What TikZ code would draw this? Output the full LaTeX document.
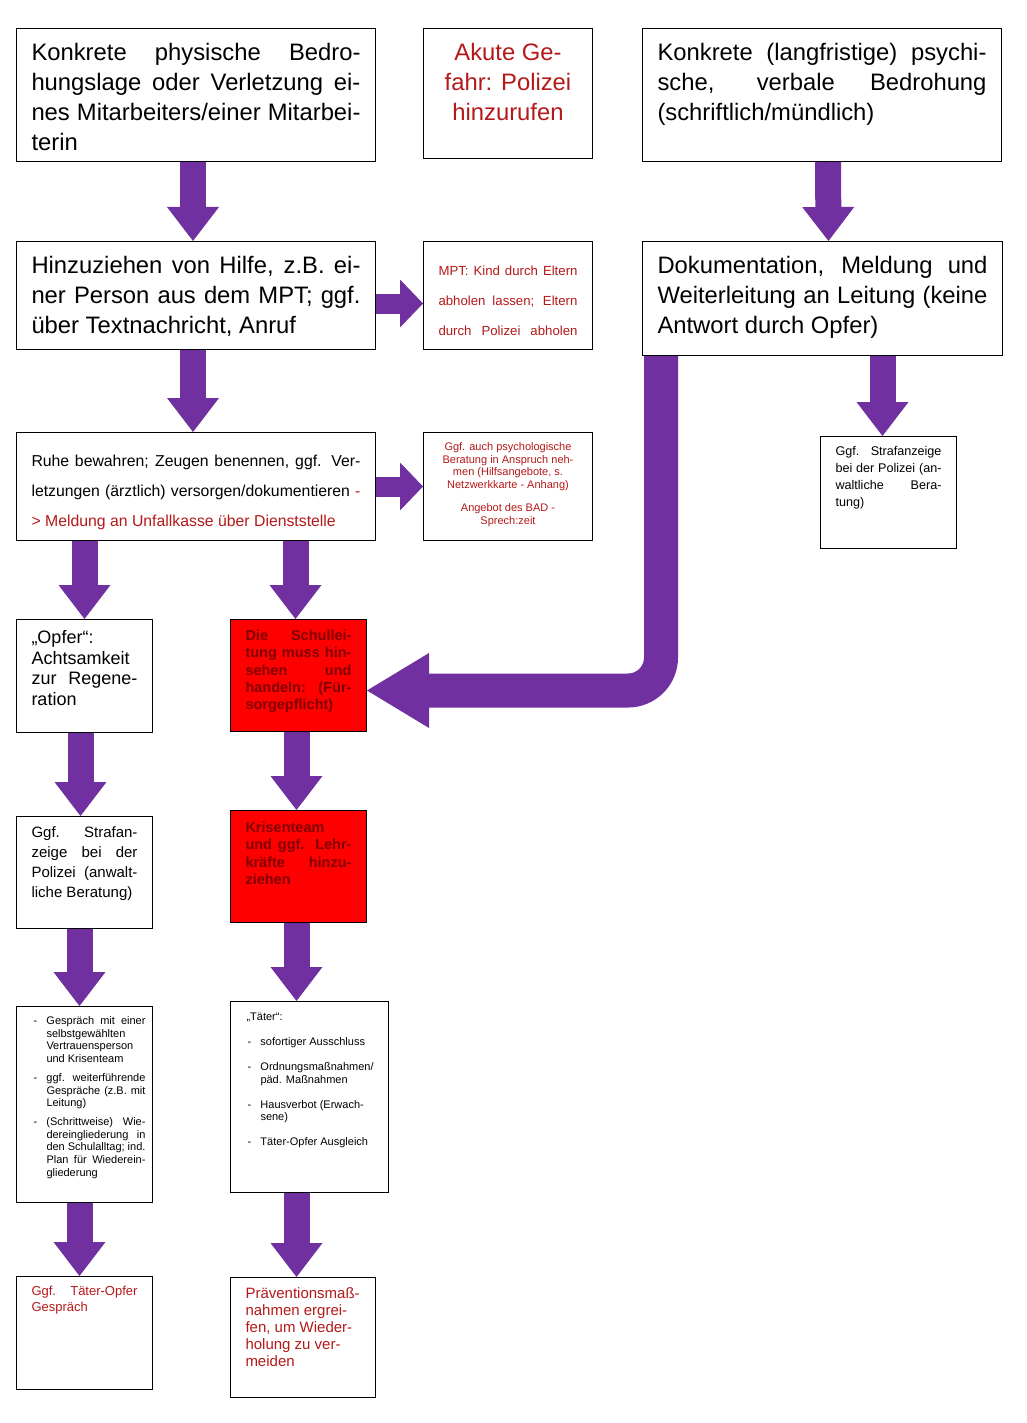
\documentclass[tikz,border=0pt]{standalone}
\usepackage{fontspec}
\setmainfont{Liberation Sans}
\usetikzlibrary{arrows.meta}

\definecolor{arrowpurple}{HTML}{7030A0}
\definecolor{textred}{HTML}{B41818}
\definecolor{alarmred}{HTML}{FF0000}
\definecolor{alarmtext}{HTML}{800000}

\newcommand{\jline}[2][\linewidth]{\makebox[#1][s]{#2}}
\newcommand{\boxtxt}[5]{\parbox[c][#2pt][t]{#1pt}{#4\rule{0pt}{#3pt}#5}}
\newcommand{\dashitem}[1]{\hspace*{17pt}\makebox[13pt][l]{-}#1}
\newcommand{\dashcont}[1]{\hspace*{30pt}#1}

\begin{document}
\begin{tikzpicture}[
    x=1pt, y=-1pt,
    box/.style={draw, line width=1pt, anchor=north west, inner ysep=0pt, inner xsep=15pt},
    alarm/.style={box, fill=alarmred},
    bigarrow/.style={draw=arrowpurple, line width=26pt, -{Triangle[length=34pt, width=52pt, line width=0pt]}},
    sidearrow/.style={draw=arrowpurple, line width=20pt, -{Triangle[length=23pt, width=48pt, line width=0pt]}}
]
\useasboundingbox (0,0) rectangle (1027,1423);

% top row
\node[box] (danger) at (16,28) {\boxtxt{329}{133}{32}{\fontsize{23.8}{30}\selectfont}{\jline{Konkrete physische Bedro-}\\
\jline{hungslage oder Verletzung ei-}\\
\jline{nes Mitarbeiters/einer Mitarbei-}\\
terin}};
\node[box] (police) at (423,28) {\boxtxt{139}{130}{32}{\fontsize{23.8}{30}\selectfont\centering\color{textred}}{Akute Ge-\\
fahr: Polizei\\
hinzurufen}};
\node[box] (psych) at (642,28) {\boxtxt{329}{133}{32}{\fontsize{23.8}{30}\selectfont}{\jline{Konkrete (langfristige) psychi-}\\
\jline{sche, verbale Bedrohung}\\
(schriftlich/mündlich)}};

% second row
\node[box] (help) at (16,241) {\boxtxt{329}{108}{32}{\fontsize{23.8}{30}\selectfont}{\jline{Hinzuziehen von Hilfe, z.B. ei-}\\
\jline{ner Person aus dem MPT; ggf.}\\
über Textnachricht, Anruf}};
\node[box] (mpt) at (423,241) {\boxtxt{139}{108}{34}{\fontsize{13.2}{30}\selectfont\color{textred}}{\jline{MPT: Kind durch Eltern}\\
\jline{abholen lassen; Eltern}\\
\jline{durch Polizei abholen}}};
\node[box] (docu) at (642,241) {\boxtxt{330}{114}{32}{\fontsize{23.8}{30}\selectfont}{\jline{Dokumentation, Meldung und}\\
\jline{Weiterleitung an Leitung (keine}\\
Antwort durch Opfer)}};

% third row
\node[box] (calm) at (16,432) {\boxtxt{329}{108}{34}{\fontsize{15.8}{30}\selectfont}{\jline{Ruhe bewahren; Zeugen benennen, ggf. Ver-}\\
\jline{letzungen (ärztlich) versorgen/dokumentieren \textcolor{textred}{-}}\\
\textcolor{textred}{> Meldung an Unfallkasse über Dienststelle}}};
\node[box] (counsel) at (423,432) {\boxtxt{139}{108}{18}{\fontsize{11}{12.6}\selectfont\centering\color{textred}}{Ggf. auch psychologische\\
Beratung in Anspruch neh-\\
men (Hilfsangebote, s.\\
Netzwerkkarte - Anhang)\\[11pt]
Angebot des BAD -\\
Sprech:zeit}};
\node[box] (charges) at (820,436) {\boxtxt{106}{112}{19}{\fontsize{12.6}{17}\selectfont}{\jline{Ggf. Strafanzeige}\\
\jline{bei der Polizei (an-}\\
\jline{waltliche Bera-}\\
tung)}};

% victim column
\node[box] (victim) at (16,619) {\boxtxt{106}{113}{24}{\fontsize{18}{20.5}\selectfont}{„Opfer“:\\
Achtsamkeit\\
\jline{zur Regene-}\\
ration}};
\node[box] (victimcharges) at (16,816) {\boxtxt{106}{112}{21}{\fontsize{15}{20}\selectfont}{\jline{Ggf. Strafan-}\\
\jline{zeige bei der}\\
\jline{Polizei (anwalt-}\\
liche Beratung)}};
\node[box, inner xsep=0pt] (victimcare) at (16,1006) {\boxtxt{136}{196}{18}{\fontsize{11}{12.6}\selectfont}{\dashitem{\jline[99pt]{Gespräch mit einer}}\\
\dashcont{selbstgewählten}\\
\dashcont{Vertrauensperson}\\
\dashcont{und Krisenteam}\\[6.5pt]
\dashitem{\jline[99pt]{ggf. weiterführende}}\\
\dashcont{\jline[99pt]{Gespräche (z.B. mit}}\\
\dashcont{Leitung)}\\[6.5pt]
\dashitem{\jline[99pt]{(Schrittweise) Wie-}}\\
\dashcont{\jline[99pt]{dereingliederung in}}\\
\dashcont{\jline[99pt]{den Schulalltag; ind.}}\\
\dashcont{\jline[99pt]{Plan für Wiederein-}}\\
\dashcont{gliederung}}};
\node[box] (talk) at (16,1276) {\boxtxt{106}{113}{19}{\fontsize{13}{15.5}\selectfont\color{textred}}{\jline{Ggf. Täter-Opfer}\\
Gespräch}};

% school column
\node[alarm] (duty) at (230,619) {\boxtxt{106}{112}{21}{\fontsize{14.5}{17.3}\selectfont\bfseries\color{alarmtext}}{\jline{Die Schullei-}\\
\jline{tung muss hin-}\\
\jline{sehen und}\\
\jline{handeln: (Für-}\\
sorgepflicht)}};
\node[alarm] (crisis) at (230,810) {\boxtxt{106}{112}{22}{\fontsize{14.5}{17.3}\selectfont\bfseries\color{alarmtext}}{Krisenteam\\
\jline{und ggf. Lehr-}\\
\jline{kräfte hinzu-}\\
ziehen}};
\node[box, inner xsep=0pt] (perpetrator) at (230,1001) {\boxtxt{158}{191}{19}{\fontsize{11}{12.6}\selectfont}{\hspace*{16pt}„Täter“:\\[12.4pt]
\dashitem{sofortiger Ausschluss}\\[12.4pt]
\dashitem{Ordnungsmaßnahmen/}\\
\dashcont{päd. Maßnahmen}\\[12.4pt]
\dashitem{Hausverbot (Erwach-}\\
\dashcont{sene)}\\[12.4pt]
\dashitem{Täter-Opfer Ausgleich}}};
\node[box] (prevention) at (230,1277) {\boxtxt{115}{120}{21}{\fontsize{15}{17}\selectfont\color{textred}}{Präventionsmaß-\\
nahmen ergrei-\\
fen, um Wieder-\\
holung zu ver-\\
meiden}};

% arrows
\draw[bigarrow] ([xshift=-3pt]danger.south) -- ([xshift=-3pt]help.north);
\draw[bigarrow] ([xshift=6pt]psych.south) -- ([xshift=6pt]docu.north);
\draw[sidearrow] ([yshift=-8pt]help.east) -- ([yshift=-8pt]mpt.west);
\draw[bigarrow] ([xshift=-3pt]help.south) -- ([xshift=-3pt]calm.north);
\draw[sidearrow] (calm.east) -- (counsel.west);
\draw[bigarrow] ([xshift=-6pt]docu.south -| charges.north) -- ([xshift=-6pt]charges.north);

\draw[bigarrow] (calm.south -| victim.north) -- (victim.north);
\draw[bigarrow] ([xshift=-3pt]calm.south -| duty.north) -- ([xshift=-3pt]duty.north);
\draw[bigarrow, line width=34pt, rounded corners=33pt, -{Triangle[length=62pt, width=75pt, line width=0pt]}] ([xshift=19pt]docu.south west) |- ([yshift=-15pt]duty.east);

\draw[bigarrow] ([xshift=-4pt]victim.south) -- ([xshift=-4pt]victimcharges.north);
\draw[bigarrow] ([xshift=-5pt]victimcharges.south) -- ([xshift=-5pt]victimcare.north);
\draw[bigarrow] ([xshift=-5pt]victimcare.south) -- ([xshift=-5pt]talk.north);

\draw[bigarrow] ([xshift=-2pt]duty.south) -- ([xshift=-2pt]crisis.north);
\draw[bigarrow] ([xshift=-2pt]crisis.south) -- ([xshift=-2pt]crisis.south |- perpetrator.north);
\draw[bigarrow] ([xshift=-2pt]perpetrator.south -| crisis.south) -- ([xshift=-2pt]prevention.north -| crisis.south);

\end{tikzpicture}
\end{document}
